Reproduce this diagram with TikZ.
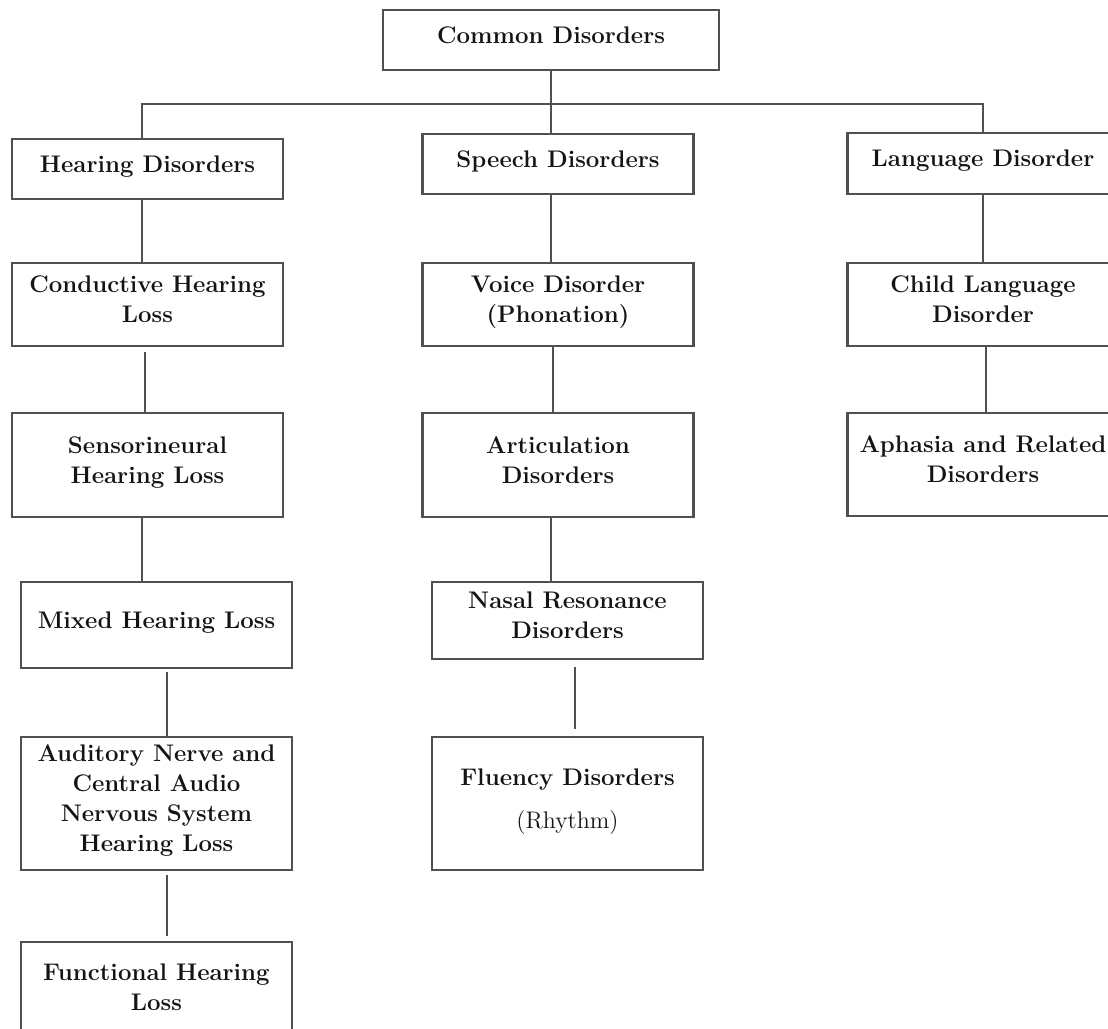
\documentclass[tikz,border=0pt]{standalone}
\usepackage{tikz}
\usetikzlibrary{positioning}
\definecolor{linegray}{RGB}{80,80,80}
\definecolor{inkgray}{RGB}{20,20,20}

\begin{document}
\begin{tikzpicture}[
    x=0.5pt, y=-0.5pt,
    dbox/.style={rectangle, draw=linegray, line width=1.1pt, fill=white,
        minimum width=135.5pt, align=center, text=inkgray, inner sep=2pt,
        font=\fontsize{12}{15}\selectfont\bfseries,
        execute at end node={\rule[-5pt]{0pt}{0pt}}},
    link/.style={draw=linegray, line width=1.1pt}
]
    \useasboundingbox (0,0) rectangle (1108,1028);
    \clip (0,0) rectangle (1108,1028);

    \node[dbox, minimum width=168pt, minimum height=30pt] (common) at (551,40) {Common Disorders};
    \node[dbox, minimum height=30pt] (hearing) at (147.5,169) {Hearing Disorders};
    \node[dbox, minimum height=30pt] (speech) at (558,164) {Speech Disorders};
    \node[dbox, minimum height=30.5pt] (language) at (983,163.5) {Language Disorder};

    % hearing column
    \node[dbox, minimum height=41.5pt] (conductive) at (147.5,304.5) {Conductive Hearing\\Loss};
    \node[dbox, minimum height=52pt] (sensori) at (147.5,465) {Sensorineural\\Hearing Loss};
    \node[dbox, minimum height=43pt] (mixed) at (156.5,625) {Mixed Hearing Loss};
    \node[dbox, minimum height=66.5pt] (auditory) at (156.5,803.5) {Auditory Nerve and\\Central Audio\\Nervous System\\Hearing Loss};
    \node[dbox, minimum height=50pt] (functional) at (156.5,992) {Functional Hearing\\Loss};

    % speech column
    \node[dbox, minimum height=41.5pt] (voice) at (558,304.5) {Voice Disorder\\(Phonation)};
    \node[dbox, minimum height=52pt] (artic) at (558,465) {Articulation\\Disorders};
    \node[dbox, minimum height=38.5pt] (nasal) at (567.5,620.5) {Nasal Resonance\\Disorders};
    \node[dbox, minimum height=66.5pt] (fluency) at (567.5,803.5) {Fluency Disorders\\[6.5pt]{\mdseries (Rhythm)}};

    % language column
    \node[dbox, minimum height=41.5pt] (child) at (983,304.5) {Child Language\\Disorder};
    \node[dbox, minimum height=51.5pt] (aphasia) at (983,464.5) {Aphasia and Related\\Disorders};

    % connectors
    \coordinate (busL) at (142,104);
    \coordinate (busR) at (983,104);
    \draw[link] (common.south) -- (common.south |- speech.north);
    \draw[link] (busL |- hearing.north) -- (busL) -- (busR) -- (busR |- language.north);

    \draw[link] (142,0 |- hearing.south) -- (142,0 |- conductive.north);
    \draw[link, shorten <=2.5pt] (145,0 |- conductive.south) -- (145,0 |- sensori.north);
    \draw[link] (142,0 |- sensori.south) -- (142,0 |- mixed.north);
    \draw[link, shorten <=1.5pt] (167,0 |- mixed.south) -- (167,0 |- auditory.north);
    \draw[link, shorten <=2pt, shorten >=2.5pt] (167,0 |- auditory.south) -- (167,0 |- functional.north);

    \draw[link] (551,0 |- speech.south) -- (551,0 |- voice.north);
    \draw[link] (553,0 |- voice.south) -- (553,0 |- artic.north);
    \draw[link] (551,0 |- artic.south) -- (551,0 |- nasal.north);
    \draw[link, shorten <=3.5pt, shorten >=3.5pt] (575,0 |- nasal.south) -- (575,0 |- fluency.north);

    \draw[link] (983,0 |- language.south) -- (983,0 |- child.north);
    \draw[link] (986,0 |- child.south) -- (986,0 |- aphasia.north);
\end{tikzpicture}
\end{document}
